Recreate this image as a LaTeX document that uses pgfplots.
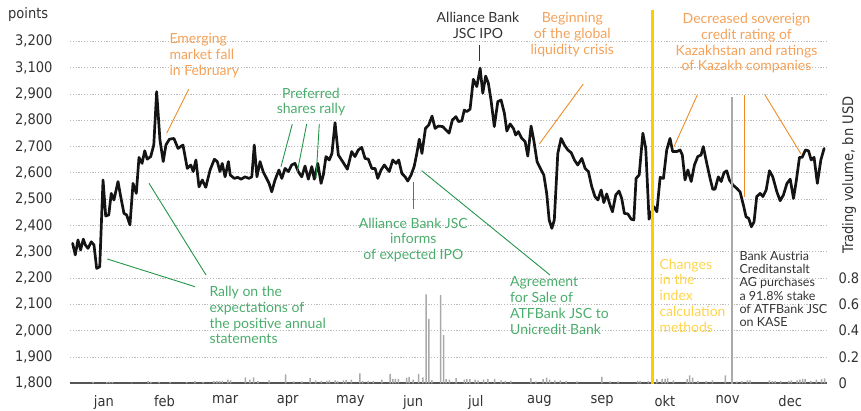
\documentclass[border=0pt]{standalone}
\usepackage{pgfplots}
\pgfplotsset{compat=1.18}
\usepackage{fontspec}
\setmainfont{Lato}
\newfontfamily\tickfont{DejaVu Sans Condensed}
\newfontfamily\annfont{Lato}
\definecolor{orangetxt}{HTML}{F4A259}
\definecolor{orangeln}{HTML}{F08C28}
\definecolor{greentxt}{HTML}{4BAD6C}
\definecolor{greenln}{HTML}{23954A}
\definecolor{yellowln}{HTML}{FFCC00}
\definecolor{yellowtxt}{HTML}{FFD54A}
\definecolor{gridc}{HTML}{BBBBBB}
\definecolor{barc}{HTML}{AAAAAA}
\definecolor{textc}{HTML}{333333}
\definecolor{axisc}{HTML}{555555}

\begin{document}
\begin{tikzpicture}
% ---------- main index axis ----------
\begin{axis}[
  at={(70pt,27.7pt)}, anchor=south west, scale only axis,
  width=757pt, height=373.3pt,
  xmin=-0.97, xmax=367.4, ymin=1800, ymax=3219.3,
  axis x line*=bottom, axis y line*=left,
  x axis line style={draw=axisc, line width=1.8pt, -},
  y axis line style={draw=none},
  major tick length=0pt,
  ymajorgrids, grid style={gridc, line width=0.8pt, dash pattern=on 1.2pt off 1.6pt},
  ytick={1800,1900,2000,2100,2200,2300,2400,2500,2600,2700,2800,2900,3000,3100},
  yticklabels={{1,800},{1,900},{2,000},{2,100},{2,200},{2,300},{2,400},{2,500},{2,600},{2,700},{2,800},{2,900},{3,100},{3,200}},
  xtick={15.5,45,74.5,105,135.5,166,196.5,227.5,258,288.5,319,349.5},
  xticklabels={jan,feb,mar,apr,may,jun,jul,aug,sep,okt,nov,dec},
  ticklabel style={font=\tickfont\fontsize{14.5}{16}\selectfont, text=textc},
  yticklabel style={xshift=-14pt},
  xticklabel style={yshift=-9pt},
  clip=false,
]
\addplot[line width=2.7pt, color=black!92, line join=round, line cap=round] coordinates {
(0.3,2332)(1.6,2288)(2.9,2345)(4.2,2307)(5.5,2348)(6.5,2326)(7.8,2313)(9.4,2338)(10.7,2326)(12.0,2237)(13.5,2243)(15.1,2573)(16.4,2436)(17.9,2440)(19.1,2522)(20.4,2497)(22.4,2567)(23.7,2510)(25.3,2446)(26.6,2440)(28.2,2402)(29.7,2560)(31.3,2522)(32.6,2659)(34.1,2636)(35.4,2684)(36.6,2652)(38.3,2662)(39.8,2706)(41.2,2909)(42.8,2725)(44.4,2643)(45.7,2706)(47.4,2728)(49.6,2731)(51.6,2693)(54.0,2706)(56.1,2617)(57.8,2630)(59.0,2605)(60.3,2649)(61.8,2547)
(63.4,2573)(65.1,2545)(67.2,2611)(69.3,2652)(70.7,2643)(72.0,2605)(73.1,2636)(74.5,2585)(76.1,2643)(77.0,2592)(79.0,2579)(80.6,2583)(82.3,2576)(84.2,2585)(86.1,2579)(87.5,2585)(88.7,2706)(90.0,2585)(91.5,2643)(93.0,2605)(94.3,2585)(95.9,2560)(97.2,2528)(98.8,2573)(100.7,2611)(102.1,2579)(103.7,2617)(105.3,2605)(106.9,2630)(108.5,2636)(110.1,2605)(111.8,2585)(113.4,2626)(115.0,2576)(116.7,2624)(117.9,2576)(119.6,2636)(121.2,2560)
(122.3,2592)(123.6,2662)(125.2,2649)(126.5,2674)(128.0,2791)(129.6,2668)(131.7,2643)(134.0,2614)(136.1,2681)(137.7,2662)(139.3,2687)(141.0,2697)(142.6,2655)(144.2,2652)(145.9,2617)(147.5,2617)(148.8,2579)(150.4,2611)(152.0,2630)(153.2,2617)(154.4,2605)(156.1,2649)(157.7,2636)(159.0,2649)(160.5,2598)(162.1,2585)(163.4,2569)(165.0,2592)(166.5,2624)(167.8,2674)(169.0,2728)(170.3,2674)(172.0,2769)(173.6,2782)(175.2,2816)(176.7,2769)(178.3,2778)(180.4,2776)(182.0,2763)(183.5,2751)
(185.1,2801)(186.8,2814)(188.1,2795)(189.7,2798)(190.9,2839)(192.1,2833)(193.7,2842)(195.3,2956)(197.0,2928)(198.6,2998)(199.9,2903)(201.3,2968)(202.6,2941)(203.9,2877)(205.5,2776)(207.2,2871)(208.8,2877)(210.4,2827)(211.6,2759)(213.2,2786)(214.8,2769)(215.9,2744)(217.2,2757)(218.9,2731)(220.5,2719)(221.8,2664)(223.4,2778)(224.7,2725)(226.3,2643)(227.9,2617)(229.6,2592)(231.0,2522)(232.2,2421)(233.5,2389)(234.7,2421)(236.4,2674)(238.0,2731)(239.6,2706)(241.3,2687)(242.9,2677)(244.5,2649)(246.1,2630)
(248.1,2655)(249.7,2617)(251.3,2605)(252.9,2548)(254.5,2510)(255.9,2497)(257.5,2535)(258.8,2487)(260.2,2520)(261.8,2478)(263.0,2452)(264.6,2516)(266.2,2531)(267.5,2503)(268.8,2446)(270.5,2444)(272.1,2424)(273.4,2421)(274.5,2579)(276.0,2592)(277.8,2751)(279.2,2693)(280.8,2424)(282.1,2452)(283.1,2472)(284.6,2452)(286.2,2583)(287.8,2579)(289.4,2687)(291.0,2731)(292.3,2681)(294.3,2681)(295.9,2687)(297.0,2668)(298.3,2573)(299.7,2611)(301.3,2567)(302.9,2630)(304.5,2662)(306.1,2668)(307.2,2700)
(308.9,2636)(310.5,2579)(311.8,2538)(312.9,2538)(314.5,2585)(315.9,2567)(317.3,2601)(318.6,2608)(319.9,2573)(321.6,2554)(323.5,2541)(325.1,2528)(326.7,2478)(328.0,2433)(329.3,2427)(330.6,2395)(331.9,2414)(333.2,2510)(334.9,2522)(336.2,2510)(337.8,2535)(339.4,2608)(341.0,2585)(343.0,2528)(344.6,2494)(346.2,2516)(347.9,2560)(349.5,2576)(351.1,2503)(352.4,2567)(354.0,2659)(355.3,2659)(356.9,2687)(358.4,2684)(359.7,2649)(361.1,2659)(362.7,2560)(364.4,2649)(366.0,2693)
};
\end{axis}
% ---------- trading volume axis ----------
\begin{axis}[
  at={(70pt,27.7pt)}, anchor=south west, scale only axis,
  width=757pt, height=373.3pt,
  xmin=-0.97, xmax=367.4, ymin=0, ymax=2.8388,
  axis x line=none, axis y line*=right,
  y axis line style={draw=none},
  major tick length=0pt,
  ytick={0,0.2,0.4,0.6,0.8},
  yticklabels={0,0.2,0.4,0.6,0.8},
  yticklabel style={font=\tickfont\fontsize{14.5}{16}\selectfont, text=textc, anchor=west, xshift=8pt},
  ybar, bar width=1.5pt,
  clip=false,
]
\addplot[fill=barc, draw=none] coordinates {
(10.3,0.011)(17.0,0.011)(18.3,0.011)(19.6,0.011)(29.0,0.006)(37.0,0.017)(38.4,0.011)(42.4,0.011)(47.7,0.011)(55.8,0.011)(59.8,0.017)(63.8,0.011)(69.1,0.017)(70.5,0.017)(71.8,0.017)(73.2,0.019)(75.8,0.028)(77.2,0.022)
(84.4,0.045)(86.5,0.028)(88.4,0.045)(90.5,0.017)(95.9,0.022)(103.9,0.067)(107.9,0.015)(111.9,0.015)(115.9,0.039)(118.6,0.022)(121.3,0.019)(124.0,0.019)(125.3,0.022)(128.0,0.022)(129.3,0.017)(132.0,0.022)(133.4,0.024)(136.0,0.028)(140.1,0.075)(141.4,0.017)(144.1,0.019)(146.7,0.017)(150.8,0.028)(154.8,0.071)(156.1,0.034)(157.4,0.034)(158.8,0.034)(162.8,0.043)(164.1,0.049)(166.0,0.028)(168.7,0.071)(170.8,0.045)
(172.3,0.677)(173.7,0.489)(175.1,0.025)(179.4,0.671)(180.9,0.367)(182.1,0.032)(183.6,0.028)(186.9,0.039)(190.9,0.028)(192.2,0.032)(193.6,0.032)(196.2,0.028)(197.6,0.022)(200.3,0.028)(202.4,0.032)(205.6,0.034)(208.8,0.022)(210.9,0.019)(213.6,0.019)
(223.3,0.039)(225.7,0.015)(229.2,0.032)(231.0,0.043)(232.4,0.028)(235.0,0.022)(237.7,0.022)(240.4,0.017)(245.8,0.015)(257.8,0.049)(261.8,0.015)(265.8,0.015)(275.2,0.019)(276.5,0.019)(280.5,0.019)(282.7,0.034)(284.6,0.032)(287.2,0.034)(288.6,0.034)(289.9,0.037)(292.6,0.022)
(299.3,0.032)(300.6,0.060)(302.0,0.043)(304.6,0.019)(308.6,0.017)(311.6,0.022)(318.0,0.060)(323.4,0.013)(326.0,0.017)(328.7,0.022)(330.0,0.022)(339.4,0.022)(340.8,0.017)(342.1,0.017)(344.8,0.017)(348.8,0.019)(350.1,0.022)(352.8,0.022)(354.2,0.028)(355.5,0.034)(356.8,0.034)(359.5,0.019)(362.2,0.028)(364.8,0.032)(366.2,0.037)
};
\end{axis}
% ---------- annotations (page pixel coordinates) ----------
\begin{scope}[x=1pt, y=-1pt, yshift=411pt,
  ann/.style={inner sep=0pt, font=\annfont\fontsize{14}{15.8}\selectfont}]
  % axis titles
  \node[anchor=west, inner sep=0pt, font=\tickfont\fontsize{14.5}{16}\selectfont, text=textc] at (8,15) {points};
  \node[rotate=90, inner sep=0pt, font=\tickfont\fontsize{14.5}{16}\selectfont, text=textc] at (849,175) {Trading volume, bn USD};
  % vertical markers
  \draw[yellowln, line width=2.8pt] (652.7,10) -- (652.7,384);
  \draw[barc, line width=2pt] (731.7,96.7) -- (731.7,384);
  % Emerging market fall
  \node[ann, anchor=north west, align=left, text=orangetxt] at (169.3,33.5) {Emerging\\market fall\\in February};
  \draw[orangeln, line width=0.9pt] (188.7,89.3) -- (166.7,133.3);
  % Preferred shares rally
  \node[ann, anchor=north, align=center, text=greentxt] at (311,87.5) {Preferred\\shares rally};
  \draw[greenln, line width=0.9pt] (292.3,124) -- (281,166.7);
  \draw[greenln, line width=0.9pt] (306.7,124) -- (297.3,171.7);
  \draw[greenln, line width=0.9pt] (319.3,124) -- (316,178.3);
  % Rally on expectations
  \node[ann, anchor=north west, align=left, text=greentxt] at (209.3,286) {Rally on the\\expectations of\\the positive annual\\statements};
  \draw[greenln, line width=0.9pt] (107.3,259) -- (195,286.7);
  \draw[greenln, line width=0.9pt] (149,183.3) -- (206,275);
  % Alliance Bank informs
  \node[ann, anchor=north, align=center, text=greentxt] at (413.3,217.5) {Alliance Bank JSC\\informs\\of expected IPO};
  \draw[greenln, line width=0.9pt] (413.3,181.7) -- (413.3,209.3);
  % Agreement ATF
  \node[ann, anchor=north west, align=left, text=greentxt] at (510,276.5) {Agreement\\for Sale of\\ATFBank JSC to\\Unicredit Bank};
  \draw[greenln, line width=0.9pt] (421.7,170.7) -- (550,275);
  % Alliance IPO
  \node[ann, anchor=north, align=center, text=textc] at (478,12) {Alliance Bank\\JSC IPO};
  \draw[textc, line width=0.9pt] (479.3,45) -- (479.3,61);
  % Beginning of crisis
  \node[ann, anchor=north, align=center, text=orangetxt] at (572.3,12) {Beginning\\of the global\\liquidity crisis};
  \draw[orangeln, line width=0.9pt] (583.3,84) -- (539.3,144);
  % Decreased sovereign
  \node[ann, anchor=north, align=center, text=orangetxt] at (746.5,13) {Decreased sovereign\\credit rating of\\Kazakhstan and ratings\\of Kazakh companies};
  \draw[orangeln, line width=0.9pt] (697.3,95) -- (674,146.7);
  \draw[orangeln, line width=0.9pt] (744.3,95) -- (744.3,196.7);
  \draw[orangeln, line width=0.9pt] (765,95) -- (801,154);
  % Changes in index
  \node[ann, anchor=north west, align=left, text=yellowtxt] at (659.3,258.5) {Changes\\in the\\index\\calculation\\methods};
  % Bank Austria
  \node[inner sep=0pt, font=\annfont\fontsize{12.5}{13.2}\selectfont, anchor=north west, align=left, text=textc] at (739.3,251) {Bank Austria\\Creditanstalt\\AG purchases\\a 91.8\% stake\\of ATFBank JSC\\on KASE};
\end{scope}
\pgfresetboundingbox
\useasboundingbox (0,0) rectangle (861pt,411pt);
\end{tikzpicture}
\end{document}
